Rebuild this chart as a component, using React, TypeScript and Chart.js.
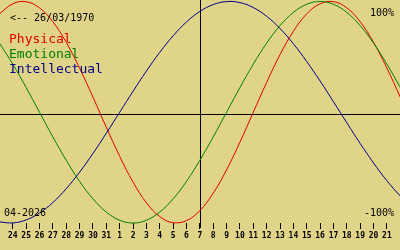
import React, { useEffect, useRef } from "react";
import { Chart, registerables } from "chart.js";

Chart.register(...registerables);

// Day labels on the axis (24 March .. 21 April)
const DAY_LABELS = [
  "24", "25", "26", "27", "28", "29", "30", "31",
  "1", "2", "3", "4", "5", "6", "7", "8", "9", "10", "11", "12",
  "13", "14", "15", "16", "17", "18", "19", "20", "21",
];

// Values per day, first value is the day before the first label (23 March)
const FIRST_DAY_INDEX = -1;
const PHYSICAL = [
  0.888, 0.979, 0.998, 0.942, 0.817, 0.631, 0.398, 0.136, -0.136, -0.398,
  -0.631, -0.817, -0.942, -0.998, -0.979, -0.888, -0.731, -0.52, -0.27, 0,
  0.27, 0.52, 0.731, 0.888, 0.979, 0.998, 0.942, 0.817, 0.631, 0.398, 0.136,
  -0.136,
];
const EMOTIONAL = [
  0.624, 0.434, 0.223, 0, -0.223, -0.434, -0.624, -0.782, -0.901, -0.975, -1,
  -0.975, -0.901, -0.782, -0.624, -0.434, -0.223, 0, 0.223, 0.434, 0.624,
  0.782, 0.901, 0.975, 1, 0.975, 0.901, 0.782, 0.624, 0.434, 0.223, 0,
];
const INTELLECTUAL = [
  -0.99, -0.999, -0.972, -0.91, -0.815, -0.69, -0.541, -0.372, -0.189, 0,
  0.189, 0.372, 0.541, 0.69, 0.815, 0.91, 0.972, 0.999, 0.99, 0.945, 0.866,
  0.756, 0.618, 0.458, 0.282, 0.095, -0.095, -0.282, -0.458, -0.618, -0.756,
  -0.866,
];

const TODAY_INDEX = 14; // 7 April
const ZERO_LINE_VALUE = -0.016;

const BIRTH_TEXT = "<-- 26/03/1970";
const MONTH_TEXT = "04-2026";
const TOP_TEXT = "100%";
const BOTTOM_TEXT = "-100%";
const SERIES_NAMES = ["Physical", "Emotional", "Intellectual"];

const BG = "#e0d488";
const RED = "#e00000";
const GREEN = "#008000";
const BLUE = "#000088";

const toPoints = (vals: number[]) =>
  vals.map((v, k) => ({ x: k + FIRST_DAY_INDEX, y: v }));

export default function App() {
  const ref = useRef<HTMLCanvasElement | null>(null);

  useEffect(() => {
    document.body.style.margin = "0";
    document.body.style.background = BG;
    const canvas = ref.current;
    if (!canvas) return;

    const overlay = {
      id: "overlay",
      beforeDraw(chart: any) {
        const { ctx, width, height } = chart;
        ctx.save();
        ctx.fillStyle = BG;
        ctx.fillRect(0, 0, width, height);
        ctx.restore();
      },
      beforeDatasetsDraw(chart: any) {
        const { ctx, chartArea } = chart;
        const xs = chart.scales.x;
        const ys = chart.scales.y;
        ctx.save();
        ctx.strokeStyle = "#000";
        ctx.lineWidth = 1;
        const yz = Math.round(ys.getPixelForValue(ZERO_LINE_VALUE)) + 0.5;
        ctx.beginPath();
        ctx.moveTo(chartArea.left, yz);
        ctx.lineTo(chartArea.right, yz);
        ctx.stroke();
        const xt = Math.round(xs.getPixelForValue(TODAY_INDEX)) + 0.5;
        ctx.beginPath();
        ctx.moveTo(xt, 0);
        ctx.lineTo(xt, chartArea.bottom + 5);
        ctx.stroke();
        ctx.restore();
      },
      afterDatasetsDraw(chart: any) {
        const { ctx } = chart;
        ctx.save();
        ctx.textBaseline = "alphabetic";
        ctx.font = "10px 'DejaVu Sans Mono'";
        ctx.fillStyle = "#000";
        ctx.textAlign = "left";
        ctx.fillText(BIRTH_TEXT, 10, 21);
        ctx.fillText(MONTH_TEXT, 4, 216);
        ctx.textAlign = "right";
        ctx.fillText(TOP_TEXT, 394, 16);
        ctx.fillText(BOTTOM_TEXT, 394, 216);
        ctx.textAlign = "left";
        ctx.font = "13px 'DejaVu Sans Mono'";
        const cols = [RED, GREEN, BLUE];
        SERIES_NAMES.forEach((n, k) => {
          ctx.fillStyle = cols[k];
          ctx.fillText(n, 9, 43 + k * 15);
        });
        ctx.restore();
      },
    };

    const mk = (label: string, vals: number[], color: string) => ({
      label,
      data: toPoints(vals),
      borderColor: color,
      borderWidth: 1,
      pointRadius: 0,
      tension: 0.4,
      fill: false,
      clip: false as any,
    });

    const chart = new Chart(canvas, {
      type: "line",
      data: {
        datasets: [
          mk(SERIES_NAMES[2], INTELLECTUAL, BLUE),
          mk(SERIES_NAMES[1], EMOTIONAL, GREEN),
          mk(SERIES_NAMES[0], PHYSICAL, RED),
        ],
      },
      options: {
        animation: false,
        responsive: false,
        maintainAspectRatio: false,
        layout: { padding: { left: 0, right: 0, top: 0, bottom: 7.4 } },
        plugins: {
          legend: { display: false },
          tooltip: { enabled: false },
        },
        scales: {
          x: {
            type: "linear",
            min: -0.958,
            max: 28.98,
            position: "bottom",
            afterBuildTicks: (scale: any) => {
              scale.ticks = DAY_LABELS.map((_, i) => ({ value: i }));
            },
            border: { display: false },
            grid: {
              display: true,
              drawOnChartArea: false,
              drawTicks: true,
              tickLength: 6,
              color: "#000",
              lineWidth: 1,
            },
            ticks: {
              autoSkip: false,
              maxRotation: 0,
              minRotation: 0,
              padding: 2,
              color: "#000",
              font: { family: "DejaVu Sans Mono", size: 8, weight: "bold" },
              callback: (v: any) => {
                const n = Number(v);
                if (!Number.isInteger(n)) return "";
                return n >= 0 && n < DAY_LABELS.length ? DAY_LABELS[n] : "";
              },
            },
          },
          y: {
            display: false,
            min: -1,
            max: 1.0134,
          },
        },
      } as any,
      plugins: [overlay],
    });

    return () => chart.destroy();
  }, []);

  return (
    <div style={{ width: 400, height: 250 }}>
      <canvas ref={ref} width={400} height={250} style={{ display: "block" }} />
    </div>
  );
}
